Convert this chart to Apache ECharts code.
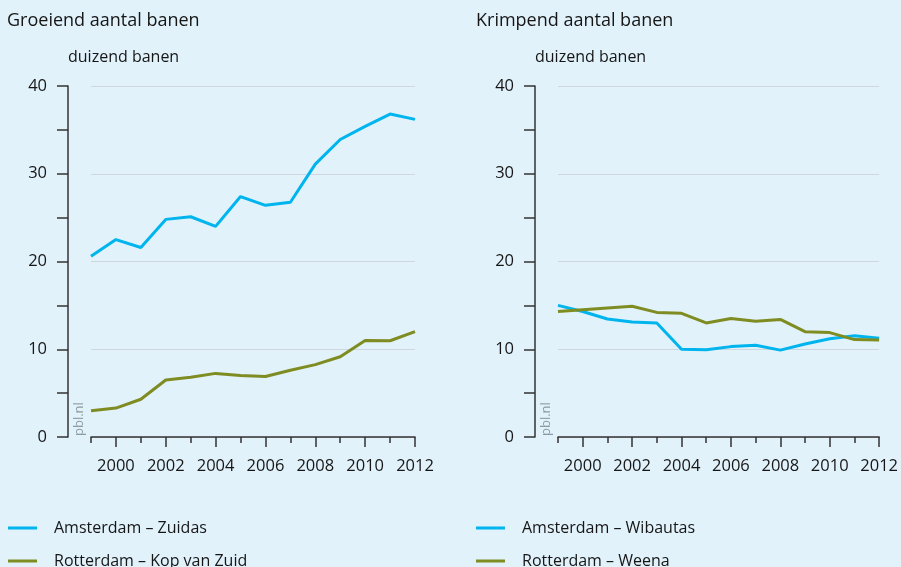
<!DOCTYPE html>
<html>
<head>
<meta charset="utf-8">
<script src="https://cdn.jsdelivr.net/npm/echarts@6/dist/echarts.min.js"></script>
<style>
html,body{margin:0;padding:0;background:#e1f2fb;}
#c{width:901px;height:567px;}
</style>
</head>
<body>
<div id="c"></div>
<script>
var years = ['1999','2000','2001','2002','2003','2004','2005','2006','2007','2008','2009','2010','2011','2012'];
var zuidas = [20.6,22.5,21.6,24.8,25.1,24.0,27.4,26.4,26.75,31.1,33.9,35.4,36.8,36.2];
var kopVanZuid = [3.0,3.3,4.3,6.5,6.8,7.25,7.0,6.9,7.6,8.25,9.15,11.0,10.97,12.0];
var wibautas = [15.0,14.3,13.45,13.1,13.0,10.0,9.95,10.3,10.45,9.9,10.6,11.2,11.55,11.25];
var weena = [14.3,14.5,14.7,14.9,14.2,14.1,13.0,13.5,13.2,13.4,12.0,11.9,11.1,11.05];
var panelTitles = ['Groeiend aantal banen','Krimpend aantal banen'];
var seriesNames = ['Amsterdam – Zuidas','Rotterdam – Kop van Zuid','Amsterdam – Wibautas','Rotterdam – Weena'];
var unitLabel = 'duizend banen';
var yTicks = {min:0, max:40, interval:10};

var FONT = '"Open Sans", sans-serif';
var BLUE = '#00b4ee', OLIVE = '#7f8c22', AXIS = '#333333', TXT = '#161616', GRID = '#cfd6dd';

function yAxis(gi){
  return {
    type:'value', gridIndex:gi, min:yTicks.min, max:yTicks.max, interval:yTicks.interval,
    offset:23,
    name:unitLabel, nameLocation:'end', nameGap:21,
    nameTextStyle:{align:'left', fontFamily:FONT, fontSize:16, color:TXT},
    axisLine:{show:true, lineStyle:{color:AXIS, width:1.5}},
    axisTick:{show:true, length:11, lineStyle:{color:AXIS, width:1.5}},
    minorTick:{show:true, splitNumber:2, length:11, lineStyle:{color:AXIS, width:1.5}},
    splitLine:{show:true, lineStyle:{color:GRID, width:1.2}},
    axisLabel:{margin:21, fontFamily:FONT, fontSize:16.5, color:TXT}
  };
}
function xAxisMain(gi){
  return {
    type:'category', gridIndex:gi, data:years, boundaryGap:false, position:'bottom',
    axisLine:{show:true, lineStyle:{color:AXIS, width:1.5}},
    axisTick:{show:true, length:6, interval:0, lineStyle:{color:AXIS, width:1.5}},
    axisLabel:{margin:21, fontFamily:FONT, fontSize:16.5, color:TXT,
      interval:function(i,v){return (+v)%2===0;}},
    splitLine:{show:false}
  };
}
function xAxisMajor(gi){
  return {
    type:'category', gridIndex:gi, data:years, boundaryGap:false, position:'bottom',
    axisLine:{show:false},
    axisTick:{show:true, length:10, interval:function(i,v){return (+v)%2===0;}, lineStyle:{color:AXIS, width:1.5}},
    axisLabel:{show:false},
    splitLine:{show:false}
  };
}
function line(name, data, color, xi, yi){
  return {type:'line', name:name, data:data, xAxisIndex:xi, yAxisIndex:yi,
    symbol:'none', lineStyle:{color:color, width:3}, itemStyle:{color:color}, z:3};
}
function legendItem(name, left, top){
  return {data:[name], left:left, top:top, padding:0,
    icon:'rect', itemWidth:29, itemHeight:3,
    textStyle:{fontFamily:FONT, fontSize:16, color:TXT, lineHeight:20, padding:[0,0,0,12]}};
}

var chart = echarts.init(document.getElementById('c'));
chart.setOption({
  backgroundColor:'#e1f2fb',
  animation:false,
  title:[
    {text:panelTitles[0], left:2, top:7, textStyle:{fontFamily:FONT, fontSize:18, fontWeight:'normal', color:TXT}},
    {text:panelTitles[1], left:471, top:7, textStyle:{fontFamily:FONT, fontSize:18, fontWeight:'normal', color:TXT}}
  ],
  grid:[
    {left:91, right:486, top:86, bottom:130},
    {left:558, right:19, top:86, bottom:130}
  ],
  xAxis:[xAxisMain(0), xAxisMajor(0), xAxisMain(1), xAxisMajor(1)],
  yAxis:[yAxis(0), yAxis(1)],
  legend:[
    legendItem(seriesNames[0], 8, 518),
    legendItem(seriesNames[1], 8, 551),
    legendItem(seriesNames[2], 476, 518),
    legendItem(seriesNames[3], 476, 551)
  ],
  graphic:[
    {type:'text', x:79, y:436, rotation:Math.PI/2, style:{text:'pbl.nl', fill:'#8e9aa3', font:'13px '+FONT, textAlign:'left', textVerticalAlign:'middle'}},
    {type:'text', x:546, y:436, rotation:Math.PI/2, style:{text:'pbl.nl', fill:'#8e9aa3', font:'13px '+FONT, textAlign:'left', textVerticalAlign:'middle'}}
  ],
  series:[
    line(seriesNames[0], zuidas, BLUE, 0, 0),
    line(seriesNames[1], kopVanZuid, OLIVE, 0, 0),
    line(seriesNames[2], wibautas, BLUE, 2, 1),
    line(seriesNames[3], weena, OLIVE, 2, 1)
  ]
});
</script>
</body>
</html>
